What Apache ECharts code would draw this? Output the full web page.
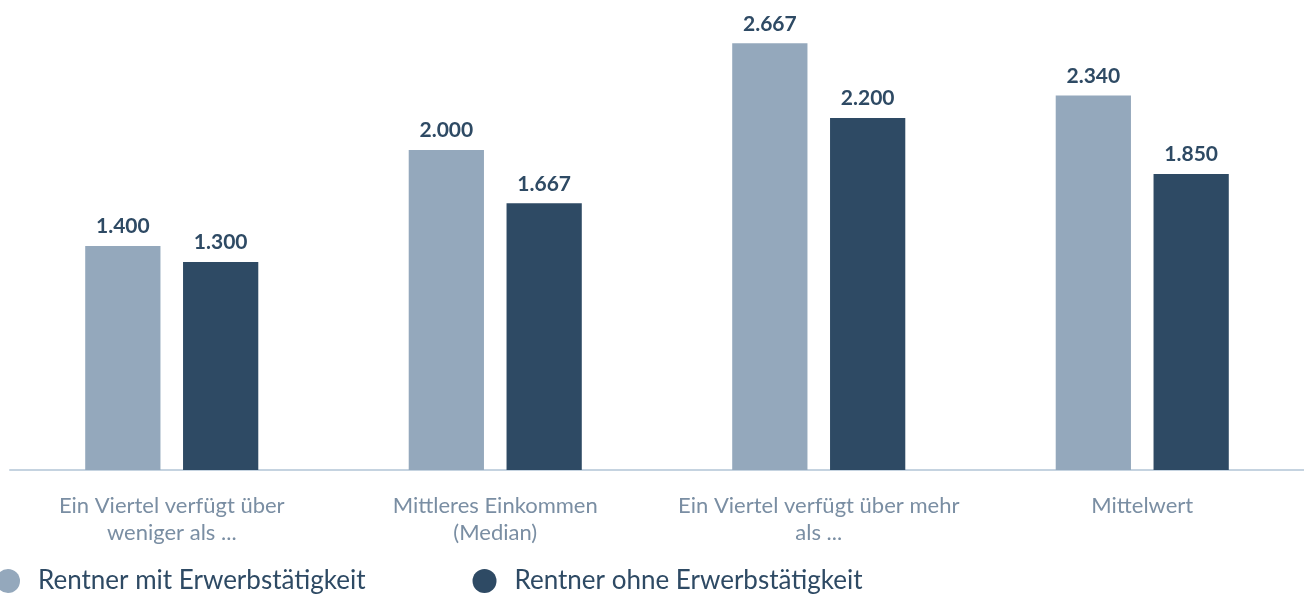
<!DOCTYPE html>
<html>
<head>
<meta charset="utf-8">
<script src="https://cdn.jsdelivr.net/npm/echarts@6/dist/echarts.min.js"></script>
<style>
  html, body { margin: 0; padding: 0; background: #fff; }
  #chart { width: 1304px; height: 596px; }
</style>
</head>
<body>
<div id="chart"></div>
<script>
const categories = [
  'Ein Viertel verfügt über\nweniger als ...',
  'Mittleres Einkommen\n(Median)',
  'Ein Viertel verfügt über mehr\nals ...',
  'Mittelwert'
];
const seriesNames = ['Rentner mit Erwerbstätigkeit', 'Rentner ohne Erwerbstätigkeit'];
const mitErwerb = [1400, 2000, 2667, 2340];
const ohneErwerb = [1300, 1667, 2200, 1850];

const fontFamily = 'Lato, "Noto Sans", sans-serif';
const chart = echarts.init(document.getElementById('chart'));

// Zahlen mit deutschem Tausenderpunkt
const fmt = v => v.toLocaleString('de-DE');

const barLabel = {
  show: true,
  position: 'top',
  distance: 9,
  color: '#2e4a64',
  fontWeight: 'bold',
  fontSize: 21,
  fontFamily: fontFamily,
  formatter: p => fmt(p.value)
};

chart.setOption({
  animation: false,
  grid: { left: 10, right: 0, top: 6, bottom: 126, containLabel: false },
  legend: {
    left: -4,
    top: 568,
    padding: 0,
    icon: 'circle',
    itemWidth: 24,
    itemHeight: 24,
    itemGap: 107,
    textStyle: {
      color: '#2e4a64',
      fontSize: 26,
      fontFamily: fontFamily,
      padding: [0, 0, 0, 13]
    },
    data: seriesNames
  },
  xAxis: {
    type: 'category',
    data: categories,
    axisTick: { show: false },
    axisLine: { lineStyle: { color: '#c5d3e0', width: 2 } },
    axisLabel: {
      color: '#7a8ea3',
      fontSize: 22,
      fontFamily: fontFamily,
      lineHeight: 27,
      margin: 22,
      interval: 0
    }
  },
  yAxis: {
    type: 'value',
    min: 0,
    max: 2900,
    show: false,
    splitLine: { show: false }
  },
  series: [
    {
      name: seriesNames[0],
      type: 'bar',
      data: mitErwerb,
      itemStyle: { color: '#94a8bc' },
      barGap: '30%',
      barCategoryGap: '46.5%',
      label: barLabel
    },
    {
      name: seriesNames[1],
      type: 'bar',
      data: ohneErwerb,
      itemStyle: { color: '#2e4a64' },
      label: barLabel
    }
  ]
});
</script>
</body>
</html>
